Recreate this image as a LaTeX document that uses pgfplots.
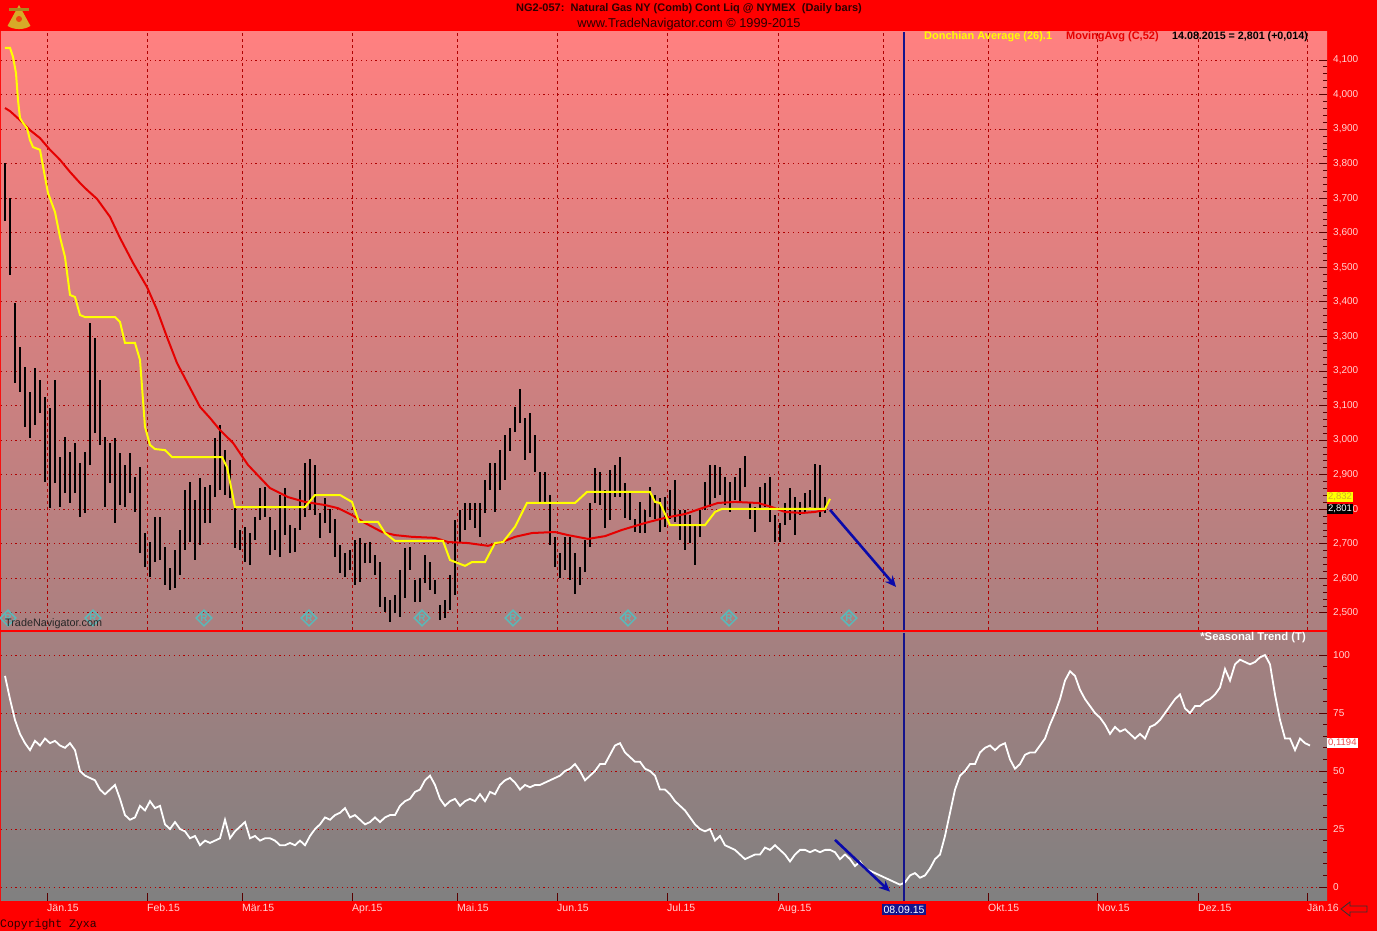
\documentclass[border=0pt]{standalone}
\usepackage{fontspec}
\setmainfont{Liberation Sans}
\newfontfamily\monofont{Liberation Mono}
\usepackage{pgfplots}
\usepackage{pgfplotstable}
\pgfplotsset{compat=1.18}
\usetikzlibrary{arrows.meta}

\definecolor{frame}{RGB}{255,0,0}
\definecolor{gridred}{RGB}{175,0,0}
\definecolor{tickdark}{RGB}{90,0,0}
\definecolor{ticklab}{RGB}{255,212,212}
\definecolor{topbg}{RGB}{255,128,128}
\definecolor{midbga}{RGB}{170,128,128}
\definecolor{midbgb}{RGB}{166,128,128}
\definecolor{botbg}{RGB}{128,128,128}
\definecolor{donch}{RGB}{255,255,0}
\definecolor{maline}{RGB}{230,0,0}
\definecolor{navyline}{RGB}{20,20,140}
\definecolor{arrowblue}{RGB}{10,10,170}
\definecolor{titlec}{RGB}{45,0,0}
\definecolor{tealR}{RGB}{90,185,185}
\definecolor{goldc}{RGB}{215,170,40}

% daily bars: d = bar position (trading-day slot), hi, lo
\pgfplotstableread{
d hi lo
1 3802 3634
2 3700 3478
3 3397 3165
4 3269 3139
5 3212 3038
6 3139 3006
7 3209 3044
8 3174 3078
9 3125 2879
10 3093 2803
11 3174 2876
12 2951 2806
13 3009 2847
14 2966 2818
15 2992 2847
16 2934 2777
17 2966 2789
18 3339 2928
19 3295 3021
20 3174 2986
21 3009 2806
22 2992 2876
23 3006 2760
24 2963 2812
25 2928 2806
26 2963 2847
27 2893 2792
28 2922 2673
29 2731 2633
30 2705 2604
31 2777 2647
32 2777 2653
33 2691 2581
34 2630 2566
35 2682 2572
36 2740 2610
37 2856 2682
38 2879 2705
39 2827 2653
40 2890 2696
41 2864 2760
42 2870 2760
43 3005 2836
44 3044 2856
45 2971 2841
46 2942 2831
47 2807 2687
48 2740 2682
49 2749 2648
50 2730 2638
51 2778 2711
52 2860 2769
53 2865 2778
54 2778 2667
55 2740 2682
56 2841 2663
57 2860 2725
58 2754 2672
59 2745 2677
60 2856 2740
61 2933 2778
62 2944 2798
63 2928 2783
64 2788 2716
65 2831 2759
66 2802 2730
67 2773 2663
68 2696 2614
69 2672 2605
70 2682 2624
71 2711 2581
72 2716 2590
73 2701 2643
74 2706 2643
75 2667 2610
76 2648 2518
77 2547 2503
78 2537 2474
79 2552 2499
80 2624 2489
81 2687 2542
82 2692 2624
83 2595 2532
84 2600 2532
85 2667 2585
86 2648 2566
87 2595 2556
88 2523 2479
89 2537 2484
90 2610 2508
91 2769 2552
92 2798 2701
93 2817 2740
94 2817 2769
95 2817 2745
96 2817 2720
97 2885 2788
98 2933 2856
99 2933 2793
100 2971 2856
101 3015 2885
102 3034 2967
103 3097 3024
104 3147 3049
105 3063 2942
106 3078 2962
107 3015 2909
108 2909 2817
109 2909 2817
110 2841 2696
111 2720 2634
112 2672 2600
113 2720 2624
114 2720 2595
115 2672 2556
116 2634 2581
117 2711 2619
118 2817 2691
119 2918 2817
120 2909 2812
121 2856 2745
122 2913 2769
123 2928 2836
124 2952 2836
125 2875 2774
126 2850 2768
127 2773 2735
128 2821 2730
129 2797 2730
130 2865 2778
131 2841 2773
132 2831 2735
133 2836 2749
134 2855 2773
135 2884 2764
136 2797 2711
137 2797 2682
138 2783 2701
139 2754 2638
140 2797 2720
141 2879 2797
142 2928 2807
143 2928 2831
144 2923 2841
145 2894 2812
146 2879 2793
147 2894 2826
148 2918 2817
149 2954 2865
150 2821 2773
151 2807 2735
152 2865 2797
153 2875 2807
154 2894 2764
155 2783 2706
156 2759 2706
157 2817 2754
158 2860 2768
159 2836 2725
160 2821 2783
161 2846 2793
162 2855 2807
163 2930 2802
164 2928 2778
165 2836 2788
}\bars

\pgfplotstableread{
d p
1 3961
2 3952
4 3926
6 3897
8 3874
10 3840
12 3811
14 3776
16 3744
17.4 3724
19.4 3698
22 3646
24 3585
26.6 3513
29.4 3443
31.4 3377
33.4 3298
35.4 3223
38 3151
40 3096
42 3064
44 3029
46.6 2992
49.6 2928
54 2861
57.6 2835
61 2821
65 2812
67.6 2803
70.4 2783
73 2760
76.4 2734
79 2725
82.4 2720
87 2717
89.6 2705
93.6 2702
97.6 2694
100.4 2705
103 2720
106.4 2731
111 2734
113.6 2725
117.6 2714
121 2722
124.4 2740
129 2760
133 2775
137 2786
141 2806
143.6 2818
147 2821
151.6 2818
154.4 2806
157 2792
160.4 2789
163 2792
165 2798
}\mavg

\pgfplotstableread{
d p
1 4135
2 4135
2.6 4109
3.2 4062
3.6 3984
4 3932
4.6 3918
5.4 3903
6 3868
6.6 3848
8 3840
9 3761
9.6 3715
11 3660
12 3588
13 3530
14 3420
15 3414
16 3362
17 3356
23 3356
24 3342
25 3281
27 3281
28 3232
28.6 3116
29 3038
30 2986
31 2974
33 2971
34.4 2951
44.4 2951
45.4 2922
47 2806
61 2806
63 2841
68 2841
70.4 2821
71.8 2763
75.6 2763
77 2731
79 2708
88.6 2708
90 2653
93 2636
94.4 2647
97 2647
99 2702
100.6 2705
103 2749
105.4 2818
115 2818
117.4 2850
130 2850
131 2821
132 2818
134 2754
141 2754
143 2792
144.4 2801
165 2801
166 2830
}\donchian

\pgfplotstableread{
d v
1 91
2 81
3 72
4 66
5 62
6 59
7 63
8 61
9 64
10 62
11 63
12 61
13 60
14 62
15 59
16 50
17 48
18 47
19 46
20 42
21 40
22 42
23 44
24 38
25 31
26 29
27 30
28 35
29 33
30 37
31 34
32 35
33 27
34 25
35 28
36 25
37 24
38 21
39 22
40 18
41 20
42 19
43 20
44 21
45 29
46 21
47 24
48 26
49 28
50 21
51 22
52 20
53 21
54 21
55 20
56 18
57 18
58 19
59 18
60 20
61 18
62 22
63 25
64 27
65 30
66 29
67 31
68 32
69 34
70 30
71 31
72 29
73 27
74 28
75 30
76 28
77 30
78 31
79 31
80 35
81 37
82 38
83 41
84 42
85 46
86 48
87 44
88 38
89 35
90 37
91 38
92 35
93 37
94 38
95 37
96 40
97 37
98 41
99 40
100 44
101 46
102 47
103 45
104 42
105 44
106 43
107 44
108 44
109 45
110 46
111 47
112 48
113 50
114 51
115 53
116 50
117 46
118 48
119 50
120 53
121 53
122 57
123 61
124 62
125 58
126 56
127 54
128 54
129 51
130 50
131 48
132 42
133 42
134 40
135 37
136 35
137 33
138 30
139 27
140 25
141 24
142 25
143 20
144 22
145 18
146 17
147 16
148 14
149 12
150 13
151 14
152 14
153 17
154 16
155 18
156 16
157 14
158 11
159 14
160 16
161 16
162 15
163 16
164 15
165 16
166 16
167 15
168 12
169 14
170 12
171 9
172 11
173 8
174 7
175 6
176 5
177 4
178 3
179 2
180 1
181 2
182 5
183 6
184 4
185 5
186 8
187 12
188 14
189 22
190 32
191 42
192 48
193 50
194 53
195 53
196 58
197 60
198 61
199 59
200 61
201 62
202 55
203 51
204 53
205 57
206 58
207 58
208 61
209 64
210 70
211 75
212 81
213 89
214 93
215 91
216 85
217 81
218 78
219 75
220 73
221 70
222 66
223 69
224 67
225 68
226 66
227 64
228 66
229 64
230 69
231 70
232 72
233 75
234 78
235 81
236 83
237 77
238 75
239 78
240 78
241 80
242 81
243 83
244 86
245 94
246 89
247 96
248 98
249 97
250 96
251 97
252 99
253 100
254 96
255 83
256 72
257 64
258 64
259 59
260 64
261 62
262 61
}\seasonal

\pgfplotsset{
  chartbase/.style={
    scale only axis, width=1326pt,
    xmin=0.2, xmax=265.4,
    axis line style={draw=none},
    tick align=inside,
    ytick pos=right, yticklabel pos=right,
    major tick length=8pt, minor tick length=4pt,
    tick style={tickdark, line width=0.8pt},
    yticklabel style={font=\fontsize{10}{12}\selectfont, text=ticklab, inner sep=0pt, xshift=6pt, anchor=west},
    /pgf/number format/assume math mode=true,
    scaled y ticks=false,
    ymajorgrids,
    major y grid style={gridred, line width=0.8pt, dash pattern=on 1.2pt off 3.6pt},
  }
}

\begin{document}
\begin{tikzpicture}
\useasboundingbox (0,0) rectangle (1377pt,931pt);
\fill[frame] (0,0) rectangle (1377pt,931pt);

% ---------- upper price panel ----------
\begin{axis}[chartbase, at={(1pt,301pt)}, anchor=south west, height=598pt,
  ymin=2450.4, ymax=4181,
  ytick={2500,2600,...,4100}, minor y tick num=4,
  xtick={9.4,29.4,48.4,70.4,91.4,111.4,133.4,155.6,176.6,197.6,219.4,239.6,261.4},
  xticklabels={}, xmajorgrids,
  major x grid style={gridred, line width=0.8pt, dash pattern=on 3pt off 3pt},
  xtick style={draw=none},
  axis background/.style={shade, top color=topbg, bottom color=midbga},
]
\addplot[only marks, mark=square, mark size=5.5pt,
  mark options={draw=tealR, line width=1.5pt, rotate=45},
  nodes near coords={R},
  every node near coord/.append style={anchor=center, font=\fontsize{10}{10}\selectfont\bfseries, text=tealR, inner sep=0pt}]
  coordinates {(1.6,2485) (18.6,2485) (40.8,2485) (61.8,2485) (84.4,2485) (102.6,2485) (125.6,2485) (145.8,2485) (169.8,2485)};
\addplot[draw=none, mark=none,
  error bars/.cd, y dir=both, y explicit, error mark=none,
  error bar style={draw=black, line width=1.8pt}]
  table[x=d, y expr={(\thisrow{hi}+\thisrow{lo})/2}, y error expr={(\thisrow{hi}-\thisrow{lo})/2}] \bars;
\addplot[maline, line width=2pt] table[x=d, y=p] \mavg;
\addplot[donch, line width=2pt] table[x=d, y=p] \donchian;
\addplot[navyline, line width=2pt] coordinates {(180.8,2450.4) (180.8,4181)};
\addplot[arrowblue, line width=2.6pt, -{Stealth[length=11pt,width=10pt]}] coordinates {(166,2798) (179.2,2575)};
\end{axis}

% ---------- lower seasonal panel ----------
\begin{axis}[chartbase, at={(1pt,30pt)}, anchor=south west, height=268pt,
  ymin=-6.03, ymax=109.5,
  ytick={0,25,50,75,100}, minor y tick num=4,
  xtick={9.4,29.4,48.4,70.4,91.4,111.4,133.4,155.6,197.6,219.4,239.6,261.4},
  xticklabels={Jän.15,Feb.15,Mär.15,Apr.15,Mai.15,Jun.15,Jul.15,Aug.15,Okt.15,Nov.15,Dez.15,Jän.16},
  xtick pos=bottom, xmajorgrids=false,
  xticklabel style={font=\fontsize{10.5}{12}\selectfont, text=ticklab, anchor=north west, inner sep=0pt, yshift=-3pt},
  axis background/.style={shade, top color=midbgb, bottom color=botbg},
]
\addplot[white, line width=1.8pt] table[x=d, y=v] \seasonal;
\addplot[navyline, line width=2pt] coordinates {(180.8,-6.03) (180.8,109.5)};
\addplot[arrowblue, line width=2.6pt, -{Stealth[length=11pt,width=10pt]}] coordinates {(167,20.3) (178,-2)};
\end{axis}

% ---------- texts ----------
\node[font=\fontsize{11}{12}\selectfont\bfseries, text=titlec, inner sep=0pt] at (689pt,922pt)
  {NG2-057:\ \ Natural Gas NY (Comb) Cont Liq @ NYMEX\ \ (Daily bars)};
\node[font=\fontsize{12.8}{14}\selectfont, text=titlec, inner sep=0pt] at (689pt,907pt)
  {www.TradeNavigator.com © 1999-2015};
\node[font=\fontsize{11}{12}\selectfont\bfseries, text=donch, anchor=west, inner sep=0pt] at (924pt,894pt) {Donchian Average (26).1};
\node[font=\fontsize{11}{12}\selectfont\bfseries, text=maline, anchor=west, inner sep=0pt] at (1066pt,894pt) {MovingAvg (C,52)};
\node[font=\fontsize{10.7}{12}\selectfont\bfseries, text=black, anchor=west, inner sep=0pt] at (1172pt,894pt) {14.08.2015 = 2,801 (+0,014)};
\node[font=\fontsize{11.3}{12}\selectfont\bfseries, text=white, anchor=east, inner sep=0pt] at (1306pt,293pt) {*Seasonal Trend (T)};
\node[font=\fontsize{10.8}{12}\selectfont, text=black!85, anchor=west, inner sep=0pt] at (5pt,307pt) {TradeNavigator.com};
\node[font=\monofont\fontsize{11.5}{12}\selectfont, text=titlec, anchor=west, inner sep=0pt] at (0pt,6pt) {Copyright Zyxa};
\node[font=\fontsize{9.5}{11}\selectfont, fill=donch, text=goldc, anchor=west, inner sep=1pt] at (1327pt,434pt) {2,832};
\node[font=\fontsize{9.5}{11}\selectfont, fill=black, text=white, anchor=west, inner sep=1pt] at (1327pt,422pt) {2,801};
\node[font=\fontsize{9.5}{11}\selectfont, fill=white, text=maline!70, anchor=west, inner sep=1pt] at (1327pt,188pt) {0,1194};
\node[font=\fontsize{10.5}{12}\selectfont, fill=navyline, text=white, inner sep=1.5pt, minimum width=42pt] at (904pt,21.5pt) {08.09.15};
% outline arrow bottom right
\draw[black!80, line width=0.8pt, fill=frame] (1341pt,22pt) -- (1350pt,29pt) -- (1350pt,25pt) -- (1367pt,25pt) -- (1367pt,19pt) -- (1350pt,19pt) -- (1350pt,15pt) -- cycle;
% logo (sextant-like)
\fill[goldc] (19pt,926pt) -- (7.5pt,905pt) arc[start angle=240, end angle=300, radius=23pt] -- cycle;
\fill[goldc!80!black] (9pt,920pt) rectangle (29pt,923pt);
\fill[frame!60!goldc] (19pt,912pt) circle (3pt);
\end{tikzpicture}
\end{document}
